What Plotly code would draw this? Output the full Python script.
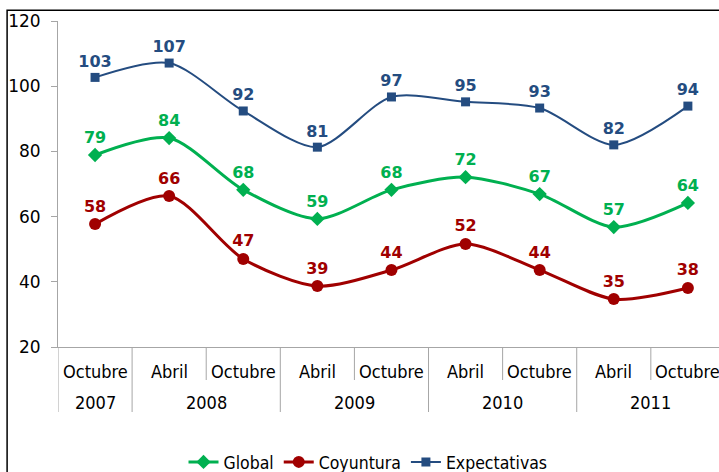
"""Indice de confianza: Global, Coyuntura y Expectativas, 2007-2011."""

import plotly.graph_objects as go


YEARS = ["2007", "2008", "2008", "2009", "2009", "2010", "2010", "2011", "2011"]
MONTHS = ["Octubre", "Abril", "Octubre", "Abril", "Octubre", "Abril", "Octubre", "Abril", "Octubre"]

GLOBAL = [78.9, 84.1, 68.2, 59.3, 68.2, 72.1, 66.9, 56.8, 64.2]
COYUNTURA = [57.7, 66.3, 47.0, 38.7, 43.6, 51.6, 43.6, 34.7, 38.1]
EXPECTATIVAS = [102.7, 107.1, 92.4, 81.3, 96.7, 95.2, 93.3, 82.0, 93.9]

SERIES = [
    ("Global", GLOBAL, "#00B050", "diamond", 11, 3),
    ("Coyuntura", COYUNTURA, "#A00000", "circle", 12, 3),
    ("Expectativas", EXPECTATIVAS, "#244C80", "square", 9, 2),
]

AXIS_GRAY = "#A6A6A6"
PLOT_H = 326  # px height of the y axis domain, used to place category labels below it
PAPER_H = 451  # px height of the paper area (figure minus top margin)

x_cats = [f"{m} {y}" for m, y in zip(MONTHS, YEARS)]

fig = go.Figure()
for name, values, color, symbol, size, width in SERIES:
    fig.add_trace(
        go.Scatter(
            x=x_cats,
            y=values,
            name=name,
            mode="lines+markers+text",
            line=dict(color=color, width=width, shape="spline", smoothing=0.8),
            marker=dict(color=color, symbol=symbol, size=size),
            text=[f"{v:.0f}" for v in values],
            textposition="top center",
            textfont=dict(family="DejaVu Sans", size=16, color=color, weight="bold"),
            cliponaxis=False,
        )
    )

# two-level category labels (month row, year row) with dividers
shapes = []
annotations = []
for i, month in enumerate(MONTHS):
    annotations.append(
        dict(x=x_cats[i], y=-24 / PLOT_H, xref="x", yref="y domain", text=month,
             showarrow=False, yanchor="middle", font=dict(size=18))
    )
    new_year = i == 0 or YEARS[i] != YEARS[i - 1]
    shapes.append(
        dict(type="line", xref="x", yref="y domain", x0=i - 0.5, x1=i - 0.5,
             y0=0, y1=(-65 if new_year else -33) / PLOT_H,
             line=dict(color=AXIS_GRAY, width=1))
    )
shapes.append(
    dict(type="line", xref="x", yref="y domain", x0=len(MONTHS) - 0.5, x1=len(MONTHS) - 0.5,
         y0=0, y1=-65 / PLOT_H, line=dict(color=AXIS_GRAY, width=1))
)
for year in dict.fromkeys(YEARS):
    idx = [i for i, y in enumerate(YEARS) if y == year]
    annotations.append(
        dict(x=sum(idx) / len(idx), y=-56 / PLOT_H, xref="x", yref="y domain", text=year,
             showarrow=False, yanchor="middle", font=dict(size=18))
    )

# outer chart border (right side falls outside the picture)
shapes.append(
    dict(type="rect", xref="paper", yref="paper", x0=-0.077, x1=1.2, y0=-0.2, y1=1.024,
         line=dict(color="black", width=1.5))
)

fig.update_layout(
    width=719,
    height=472,
    margin=dict(l=58, r=0, t=21, b=0, autoexpand=False),
    paper_bgcolor="white",
    plot_bgcolor="white",
    font=dict(family="DejaVu Sans Condensed", size=16, color="black"),
    showlegend=True,
    legend=dict(
        orientation="h",
        x=0.469,
        xanchor="center",
        y=10 / PAPER_H,
        yanchor="middle",
        font=dict(size=17.5),
        itemwidth=30,
    ),
    shapes=shapes,
    annotations=annotations,
)

fig.update_xaxes(
    type="category",
    range=[-0.5, 8.42],
    showline=True,
    linecolor=AXIS_GRAY,
    ticks="",
    showticklabels=False,
    showgrid=False,
)
fig.update_yaxes(
    domain=[125 / PAPER_H, 1],
    range=[20, 120],
    dtick=20,
    showline=True,
    linecolor=AXIS_GRAY,
    ticks="outside",
    ticklen=6,
    tickcolor=AXIS_GRAY,
    ticklabelstandoff=7,
    showgrid=False,
    zeroline=False,
    tickfont=dict(family="DejaVu Sans", size=17),
)

# the page body has a default 8px margin; drop it so the figure fills the window
fig.write_html(
    "out.html",
    config={"displayModeBar": False},
    post_script="document.body.style.margin = '0';",
)
